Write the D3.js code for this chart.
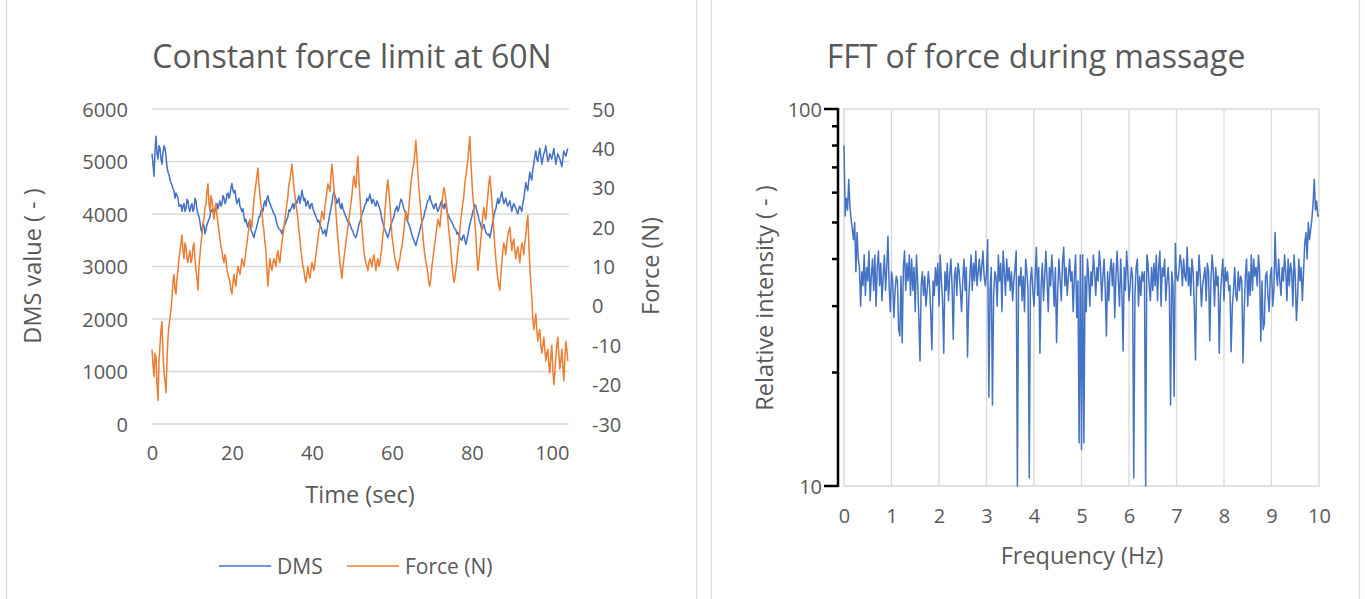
<!DOCTYPE html>
<html>
<head>
<meta charset="utf-8">
<script src="https://cdn.jsdelivr.net/npm/d3@7"></script>
<style>
  html, body { margin: 0; padding: 0; background: #fff; }
  svg { display: block; font-family: "Open Sans", "DejaVu Sans", sans-serif; }
</style>
</head>
<body>
<svg id="chart" width="1365" height="599"></svg>
<script>
// ---------- DATA ----------
const timeStep = 0.25; // seconds between samples
const dmsValues = [
5150,4950,4720,5200,5480,5150,5050,5300,5250,5050,4950,5180,5300,5250,5100,4900,4800,4750,4650,4600,
4550,4480,4450,4300,4400,4350,4300,4150,4150,4180,4050,4150,4200,4050,4100,4280,4250,4100,4050,4150,
4200,4050,4100,4300,4250,4080,4000,3950,3850,3700,3650,3820,3780,3620,3700,3800,3850,3900,3950,4080,
4050,4100,3980,4050,4150,4200,4100,4180,4250,4150,4200,4350,4300,4200,4250,4380,4400,4300,4350,4500,
4580,4450,4400,4450,4300,4200,4250,4300,4150,4100,4050,4100,3950,3850,3900,3800,3750,3850,3800,3700,
3650,3600,3550,3650,3700,3780,3850,3950,3950,4050,4100,4050,4200,4250,4150,4300,4350,4250,4200,4150,
4100,4050,4000,3980,3900,3820,3750,3720,3700,3680,3620,3700,3750,3800,3850,3900,3950,4080,4050,4100,
4150,4200,4100,4180,4250,4200,4300,4350,4200,4300,4450,4350,4250,4300,4150,4200,4250,4150,4100,4180,
4200,4100,4050,4000,3950,3900,3850,3880,3800,3750,3700,3620,3650,3700,3580,3680,3800,3900,4000,4100,
4200,4350,4420,4350,4300,4200,4250,4300,4150,4100,4200,4100,4050,4000,3950,3900,3850,3850,3800,3750,
3700,3680,3600,3580,3550,3620,3700,3800,3850,3900,4000,4050,4100,4180,4200,4300,4250,4300,4380,4280,
4200,4280,4250,4180,4150,4250,4200,4150,4100,4000,3900,3820,3750,3700,3650,3600,3550,3620,3700,3780,
3850,3900,3950,4050,4100,4150,4050,4100,4200,4280,4250,4180,4100,4050,4000,3900,3850,3800,3750,3680,
3600,3550,3500,3450,3400,3480,3550,3620,3700,3780,3850,3900,3950,4050,4100,4200,4250,4280,4350,4250,
4200,4150,4100,4180,4200,4100,4050,4100,4150,4220,4250,4150,4100,4200,4150,4050,4000,3950,3900,3880,
3850,3800,3750,3720,3700,3620,3650,3580,3550,3520,3500,3580,3600,3500,3420,3500,3600,3700,3800,3880,
3950,4050,4100,4180,4150,4050,4000,3900,3850,3780,3700,3750,3800,3720,3650,3620,3600,3620,3550,3650,
3750,3850,3950,4050,4100,4200,4300,4200,4250,4350,4420,4300,4200,4250,4300,4200,4150,4200,4250,4150,
4050,4150,4200,4150,4100,4050,4000,4100,4150,4100,4050,4200,4300,4450,4600,4500,4450,4650,4800,4700,
4650,4850,4950,5100,5200,5050,5000,5150,5250,5100,4950,5050,5150,5200,5300,5150,5000,5050,5150,5100,
5050,5150,5250,5100,4950,5050,5150,5100,5050,4980,4900,5050,5200,5150,5100,5180,5250
];
const forceValues = [
-11,-15,-18,-12,-13,-20,-24,-14,-10,-6,-4,-12,-17,-19,-22,-14,-8,-5,-3,-1,
2,6,8,4,3,7,9,12,14,16,18,14,12,16,15,12,11,13,14,11,
12,15,16,12,9,7,4,10,13,16,18,21,22,25,26,29,31,26,24,28,
27,24,22,25,26,23,21,19,17,15,14,12,11,13,12,9,8,7,6,4,
3,6,8,6,5,8,10,9,8,10,12,11,10,12,14,16,18,20,22,21,
20,24,27,29,31,33,35,31,28,26,24,21,19,16,14,9,5,9,12,10,
9,11,12,11,10,13,14,12,11,14,16,18,20,22,24,26,28,31,32,34,
36,33,30,28,26,24,22,19,17,14,12,10,9,7,6,8,10,8,7,9,
11,10,9,11,13,15,17,19,20,22,24,23,22,25,27,29,31,30,29,33,
36,33,30,27,24,20,17,14,11,9,7,10,12,14,16,18,20,22,24,26,
28,31,33,31,30,35,38,32,28,24,20,17,14,12,11,10,9,11,12,11,
10,12,13,11,9,11,12,10,11,13,15,18,20,24,27,30,32,29,26,22,
18,16,14,12,11,10,9,11,12,14,15,17,19,22,24,23,22,25,28,31,
33,35,36,39,42,38,34,30,27,24,21,18,15,13,11,10,8,6,5,7,
10,12,14,16,18,20,22,21,20,23,26,28,30,29,27,25,22,19,17,14,
11,8,6,7,9,11,14,16,19,22,24,26,28,31,33,35,37,40,43,37,
32,28,25,21,18,13,9,11,14,17,20,23,25,23,22,25,28,31,33,30,
27,23,19,15,12,9,7,5,4,8,11,14,16,15,13,16,18,19,20,17,
14,16,17,14,12,14,15,13,11,14,16,15,13,16,18,21,23,16,10,6,
2,-3,-6,-4,-2,-6,-9,-7,-6,-10,-12,-10,-8,-11,-14,-12,-11,-15,-17,-13,
-10,-16,-20,-17,-13,-10,-8,-12,-16,-14,-11,-15,-19,-14,-9,-11,-14
];
const timeTicks = [0, 20, 40, 60, 80, 100];
const dmsTicks = [0, 1000, 2000, 3000, 4000, 5000, 6000];
const forceTicks = [-30, -20, -10, 0, 10, 20, 30, 40, 50];
const legendLabels = ["DMS", "Force (N)"];

const freqStep = 0.025; // Hz between FFT bins
const fftValues = [
80,52,58,54,65,55,51,48,45,50,
37,47,40,38,30,37,34,41,32,38,
35,42,31,36,40,33,41,30,38,42,
34,39,31,36,41,33,38,46,34,29,
37,35,28,33,36,35,26,25,36,24,
38,42,33,39,35,41,32,40,33,38,
29,41,35,28,21.5,34,37,32,36,30,
33,37,34,29,23,35,32,38,34,39,
30,41,35,31,22.5,37,33,39,31,36,
40,34,24.5,36,38,32,39,37,33,29,
35,40,33,38,22,31,36,41,33,39,
35,42,34,37,40,35,38,42,36,34,
37,45,17.2,33,38,16.4,32,37,36,30,
41,35,39,29,42,37,32,40,35,38,
33,37,31,35,38,42,10,36,34,38,
31,36,29,40,37,33,10.5,35,38,33,
30,36,43,32,38,22.5,34,39,31,36,
42,35,29,38,34,41,36,30,38,24,
33,40,35,31,39,43,34,38,32,36,
40,35,37,29,36,41,28,35,13,41,
12.5,
41,13,36,29,40,36,30,37,34,41,
37,32,38,35,42,38,31,36,40,33,
25,37,31,37,40,34,39,28,36,42,
35,30,40,33,22.8,38,33,42,37,31,
34,38,36,10.5,32,38,40,30,36,32,
37,35,37,10,41,39,34,31,38,33,
39,34,41,31,38,42,30,38,36,40,
31,35,38,33,16.4,37,34,17.3,44,36,
35,37,41,39,34,40,36,35,43,34,
38,32,40,37,30,21.6,37,34,41,36,
30,34,36,38,31,39,37,24.3,35,41,
37,30,38,34,36,22.5,32,36,40,31,
38,35,37,33,34,22.7,30,33,38,32,
31,37,33,36,35,21.2,29,36,40,30,
37,32,41,33,40,36,38,34,41,37,
24.2,35,26,27,36,37,32,29,36,38,
30,33,47,37,34,40,35,32,38,35,
41,37,31,40,34,39,37,30,41,36,
27.5,32,40,35,38,31,37,44,47,40,
50,45,48,51,56,65,54,57,52,52
];
const freqTicks = [0, 1, 2, 3, 4, 5, 6, 7, 8, 9, 10];
const intensityTickLabels = [10, 100];
const intensityMinorTicks = [20, 30, 40, 50, 60, 70, 80, 90];

// ---------- STYLE ----------
const BLUE = "#4472C4", ORANGE = "#ED7D31", GRID = "#d9d9d9", TXT = "#595959";
const TITLE_FS = 32, AXTITLE_FS = 23.5, TICK_FS = 20, LEGEND_FS = 21;
const plain = d => String(d);

const svg = d3.select("#chart");

// Panel frames
svg.append("rect").attr("x", 6.5).attr("y", -5).attr("width", 690).attr("height", 620)
  .attr("fill", "#fff").attr("stroke", GRID).attr("stroke-width", 1.3);
svg.append("rect").attr("x", 711.5).attr("y", -5).attr("width", 648).attr("height", 620)
  .attr("fill", "#fff").attr("stroke", GRID).attr("stroke-width", 1.3);

// ================= LEFT CHART =================
const L = svg.append("g");
const xL = d3.scaleLinear().domain([0, 104.3]).range([152, 569]);
const yDms = d3.scaleLinear().domain([0, 6000]).range([424, 109]);
const yForce = d3.scaleLinear().domain([-30, 50]).range([424, 109]);

L.append("text").attr("x", 352).attr("y", 55).attr("text-anchor", "middle")
  .attr("dominant-baseline", "central").attr("fill", TXT).attr("font-size", TITLE_FS)
  .text("Constant force limit at 60N");

// gridlines
L.append("g").selectAll("line").data(dmsTicks).join("line")
  .attr("x1", xL.range()[0]).attr("x2", xL.range()[1])
  .attr("y1", d => yDms(d)).attr("y2", d => yDms(d))
  .attr("stroke", GRID).attr("stroke-width", 1.3);

// axes (labels only)
const axLeft = d3.axisLeft(yDms).tickValues(dmsTicks).tickFormat(plain).tickSize(0).tickPadding(0);
const gLeft = L.append("g").attr("transform", "translate(128,0)").call(axLeft);
const axRight = d3.axisRight(yForce).tickValues(forceTicks).tickFormat(plain).tickSize(0).tickPadding(0);
const gRight = L.append("g").attr("transform", "translate(592,0)").call(axRight);
const axBottom = d3.axisBottom(xL).tickValues(timeTicks).tickFormat(plain).tickSize(0).tickPadding(0);
const gBottom = L.append("g").attr("transform", "translate(0,446)").call(axBottom);
[gLeft, gRight, gBottom].forEach(g => {
  g.select(".domain").remove();
  g.selectAll("text").attr("fill", TXT).attr("font-size", TICK_FS)
    .attr("font-family", "'Open Sans', sans-serif");
});
gLeft.selectAll("text").attr("dy", "0.35em");
gRight.selectAll("text").attr("dy", "0.35em");
gBottom.selectAll("text").attr("dy", "0.71em");

// axis titles
L.append("text").attr("transform", "translate(32,266) rotate(-90)")
  .attr("text-anchor", "middle").attr("dominant-baseline", "central")
  .attr("fill", TXT).attr("font-size", AXTITLE_FS).text("DMS value ( - )");
L.append("text").attr("transform", "translate(650,266) rotate(-90)")
  .attr("text-anchor", "middle").attr("dominant-baseline", "central")
  .attr("fill", TXT).attr("font-size", AXTITLE_FS).text("Force (N)");
L.append("text").attr("x", 360).attr("y", 494).attr("text-anchor", "middle")
  .attr("dominant-baseline", "central").attr("fill", TXT).attr("font-size", AXTITLE_FS)
  .text("Time (sec)");

// lines
const dmsLine = d3.line().x((d, i) => xL(i * timeStep)).y(d => yDms(d));
const forceLine = d3.line().x((d, i) => xL(i * timeStep)).y(d => yForce(d));
L.append("path").datum(dmsValues).attr("d", dmsLine).attr("fill", "none")
  .attr("stroke", BLUE).attr("stroke-width", 1.5).attr("stroke-linejoin", "round");
L.append("path").datum(forceValues).attr("d", forceLine).attr("fill", "none")
  .attr("stroke", ORANGE).attr("stroke-width", 1.5).attr("stroke-linejoin", "round");

// legend
const legendX = [219, 347];
const legendColors = [BLUE, ORANGE];
legendLabels.forEach((lab, i) => {
  L.append("line").attr("x1", legendX[i]).attr("x2", legendX[i] + 52)
    .attr("y1", 566).attr("y2", 566).attr("stroke", legendColors[i]).attr("stroke-width", 1.5);
  L.append("text").attr("x", legendX[i] + 58).attr("y", 566)
    .attr("dominant-baseline", "central").attr("fill", TXT).attr("font-size", LEGEND_FS).text(lab);
});

// ================= RIGHT CHART =================
const R = svg.append("g");
const xR = d3.scaleLinear().domain([0, 10]).range([844, 1319]);
const yR = d3.scaleLog().domain([10, 100]).range([486, 109]);

R.append("text").attr("x", 1036).attr("y", 55).attr("text-anchor", "middle")
  .attr("dominant-baseline", "central").attr("fill", TXT).attr("font-size", TITLE_FS)
  .text("FFT of force during massage");

// vertical gridlines
R.append("g").selectAll("line").data(freqTicks.slice(1, -1)).join("line")
  .attr("x1", d => xR(d)).attr("x2", d => xR(d)).attr("y1", 109).attr("y2", 486)
  .attr("stroke", GRID).attr("stroke-width", 1.3);
// plot border
R.append("rect").attr("x", 844).attr("y", 109).attr("width", 475).attr("height", 377)
  .attr("fill", "none").attr("stroke", GRID).attr("stroke-width", 1.5);

// y axis (black, with major & minor ticks)
R.append("line").attr("x1", 838).attr("x2", 838).attr("y1", yR(100) - 1).attr("y2", yR(10) + 1)
  .attr("stroke", "#000").attr("stroke-width", 2.5);
R.append("g").selectAll("line").data(intensityTickLabels).join("line")
  .attr("x1", 824).attr("x2", 838).attr("y1", d => yR(d)).attr("y2", d => yR(d))
  .attr("stroke", "#000").attr("stroke-width", 2.5);
R.append("g").selectAll("line").data(intensityMinorTicks).join("line")
  .attr("x1", 832).attr("x2", 838).attr("y1", d => yR(d)).attr("y2", d => yR(d))
  .attr("stroke", "#000").attr("stroke-width", 2.5);
R.append("g").selectAll("text").data(intensityTickLabels).join("text")
  .attr("x", 822).attr("y", d => yR(d)).attr("text-anchor", "end")
  .attr("dominant-baseline", "central").attr("fill", TXT).attr("font-size", TICK_FS)
  .text(d => d);

const axFreq = d3.axisBottom(xR).tickValues(freqTicks).tickFormat(plain).tickSize(0).tickPadding(0);
const gFreq = R.append("g").attr("transform", "translate(0,509)").call(axFreq);
gFreq.select(".domain").remove();
gFreq.selectAll("text").attr("fill", TXT).attr("font-size", TICK_FS)
  .attr("font-family", "'Open Sans', sans-serif").attr("dy", "0.71em");

R.append("text").attr("transform", "translate(764,298) rotate(-90)")
  .attr("text-anchor", "middle").attr("dominant-baseline", "central")
  .attr("fill", TXT).attr("font-size", AXTITLE_FS).text("Relative intensity ( - )");
R.append("text").attr("x", 1082).attr("y", 555).attr("text-anchor", "middle")
  .attr("dominant-baseline", "central").attr("fill", TXT).attr("font-size", AXTITLE_FS)
  .text("Frequency (Hz)");

const fftLine = d3.line().x((d, i) => xR(i * freqStep)).y(d => yR(d));
R.append("path").datum(fftValues).attr("d", fftLine).attr("fill", "none")
  .attr("stroke", BLUE).attr("stroke-width", 1.5).attr("stroke-linejoin", "round");
</script>
</body>
</html>
